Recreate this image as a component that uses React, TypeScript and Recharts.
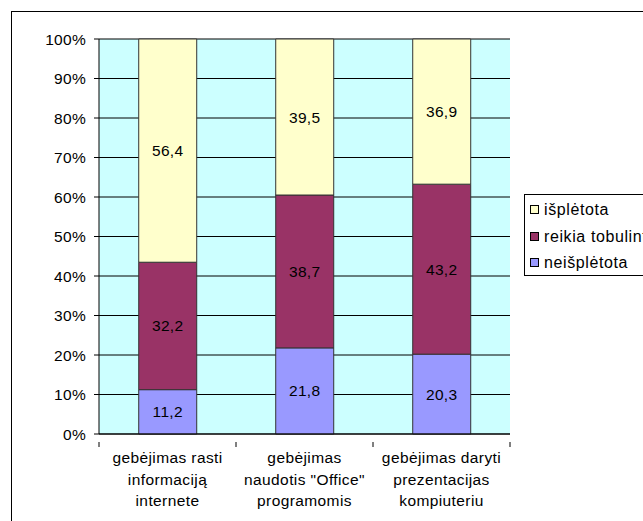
import React from 'react';
import { BarChart, Bar, XAxis, YAxis, CartesianGrid, LabelList } from 'recharts';

// Categories (multi-line labels)
const categories = [
  ['gebėjimas rasti', 'informaciją', 'internete'],
  ['gebėjimas', 'naudotis "Office"', 'programomis'],
  ['gebėjimas daryti', 'prezentacijas', 'kompiuteriu'],
];

const neisplestota = [11.2, 21.8, 20.3];
const reikiaTobulinti = [32.2, 38.7, 43.2];
const isplestota = [56.4, 39.5, 36.9];

const yTicks = [0, 0.1, 0.2, 0.3, 0.4, 0.5, 0.6, 0.7, 0.8, 0.9, 1];

const SERIES = [
  { key: 'nei', name: 'neišplėtota', color: '#9999FF' },
  { key: 'reikia', name: 'reikia tobulinti', color: '#993366' },
  { key: 'isp', name: 'išplėtota', color: '#FFFFCC' },
];

const data = categories.map((lines, i) => ({
  name: lines.join(' '),
  lines,
  nei: neisplestota[i],
  reikia: reikiaTobulinti[i],
  isp: isplestota[i],
}));

const W = 643;
const H = 521;
const M = { top: 39, right: 133, bottom: 7, left: 39 };
const PLOT_W = W - M.left - 60 - M.right;
const HALF = PLOT_W / categories.length / 2;
const FONT = '"Liberation Sans", Arial, sans-serif';
const FS = 15.5;

const fmt = (v: any) => String(v).replace('.', ',');

const XTick = (props: any) => {
  const { x, y, payload, index } = props;
  const lines: string[] = data[payload.index ?? index]?.lines ?? [];
  return (
    <g>
      <line x1={x - HALF} x2={x - HALF} y1={y} y2={y + 5} stroke="#000" />
      {index === categories.length - 1 && (
        <line x1={x + HALF} x2={x + HALF} y1={y} y2={y + 5} stroke="#000" />
      )}
      <text
        x={x}
        y={y + 21}
        textAnchor="middle"
        fontSize={FS}
        fontFamily={FONT}
        letterSpacing={0.4}
        fill="#000"
      >
        {lines.map((l, k) => (
          <tspan key={k} x={x} dy={k === 0 ? 0 : 21.5}>{l}</tspan>
        ))}
      </text>
    </g>
  );
};

const App = () => {
  return (
    <div style={{ position: 'absolute', left: 0, top: 0, width: W, height: H, overflow: 'hidden', background: '#fff' }}>
      <div style={{ position: 'absolute', left: 11, top: 11, width: W, height: H, border: '1px solid #000' }} />
      <BarChart
        width={W}
        height={H}
        data={data}
        stackOffset="expand"
        margin={M}
        barCategoryGap="29%"
        style={{ position: 'absolute', left: 0, top: 0 }}
      >
        <CartesianGrid vertical={false} stroke="#000" fill="#CCFFFF" fillOpacity={1} strokeOpacity={1} />
        <XAxis
          dataKey="name"
          height={80}
          tick={<XTick />}
          tickLine={false}
          axisLine={{ stroke: '#000' }}
          interval={0}
        />
        <YAxis
          width={60}
          domain={[0, 1]}
          ticks={yTicks}
          tickFormatter={(v: number) => `${Math.round(v * 100)}%`}
          tick={{ fontSize: FS, fontFamily: FONT, fill: '#000', letterSpacing: 0.3 }}
          tickSize={5}
          tickMargin={8}
          tickLine={{ stroke: '#000' }}
          axisLine={{ stroke: '#000' }}
        />
        <YAxis
          yAxisId="r"
          orientation="right"
          width={0}
          tick={false}
          tickLine={false}
          axisLine={{ stroke: '#808080' }}
        />
        {SERIES.map((s) => (
          <Bar
            key={s.key}
            dataKey={s.key}
            name={s.name}
            stackId="a"
            fill={s.color}
            stroke="#333"
            strokeWidth={1}
            isAnimationActive={false}
          >
            <LabelList
              dataKey={s.key}
              position="center"
              formatter={fmt}
              style={{ fontSize: FS, fontFamily: FONT, fill: '#000', letterSpacing: 0.3 }}
            />
          </Bar>
        ))}
      </BarChart>
      <div
        style={{
          position: 'absolute',
          left: 524,
          top: 194,
          width: 140,
          height: 80,
          border: '1px solid #000',
          background: '#fff',
          fontFamily: FONT,
          fontSize: 16,
          letterSpacing: 0.6,
          whiteSpace: 'nowrap',
        }}
      >
        {[...SERIES].reverse().map((s, i) => (
          <div key={s.key} style={{ position: 'absolute', left: 5, top: 5 + i * 26.5, height: 20, lineHeight: '20px' }}>
            <span
              style={{
                display: 'inline-block',
                width: 7,
                height: 7,
                border: '1px solid #000',
                background: s.color,
                marginRight: 5,
                verticalAlign: 'middle',
                position: 'relative',
                top: -1,
              }}
            />
            {s.name}
          </div>
        ))}
      </div>
    </div>
  );
};

export default App;
